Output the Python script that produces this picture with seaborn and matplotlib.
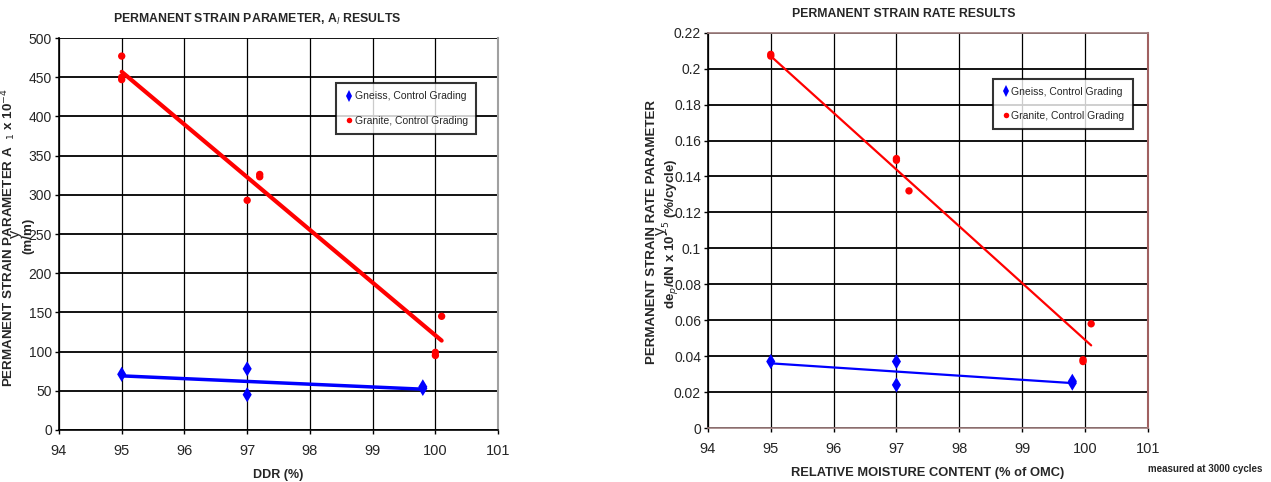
import matplotlib
matplotlib.use("Agg")
import matplotlib.pyplot as plt
import pandas as pd
import seaborn as sns

# left chart: permanent strain parameter A1 vs DDR
a1_granite_x = [95.0, 95.0, 95.0, 97.0, 97.2, 97.2, 100.0, 100.0, 100.1]
a1_granite_y = [477, 450, 447, 293, 323, 326, 95, 99, 145]
a1_gneiss_x = [95.0, 97.0, 97.0, 99.8, 99.8]
a1_gneiss_y = [71, 78, 45, 53, 55]
a1_granite_trend_x = [95.0, 100.1]
a1_granite_trend_y = [457, 114]
a1_gneiss_trend_x = [95.0, 99.8]
a1_gneiss_trend_y = [69, 52]

# right chart: permanent strain rate vs relative moisture content
rate_granite_x = [95.0, 95.0, 97.0, 97.0, 97.2, 99.97, 99.97, 100.1]
rate_granite_y = [0.207, 0.208, 0.149, 0.150, 0.132, 0.037, 0.038, 0.058]
rate_gneiss_x = [95.0, 97.0, 97.0, 99.8, 99.8]
rate_gneiss_y = [0.037, 0.037, 0.024, 0.026, 0.025]
rate_granite_trend_x = [95.0, 100.1]
rate_granite_trend_y = [0.207, 0.046]
rate_gneiss_trend_x = [95.0, 99.8]
rate_gneiss_trend_y = [0.036, 0.025]

series_names = ["Gneiss, Control Grading", "Granite, Control Grading"]
x_ticks = [94, 95, 96, 97, 98, 99, 100, 101]

sns.set_theme(style="white")
plt.rcParams["font.family"] = ["Liberation Sans", "DejaVu Sans"]

fig = plt.figure(figsize=(12.71, 4.82), dpi=100)
ax1 = fig.add_axes([0.0464, 0.108, 0.3455, 0.813])
ax2 = fig.add_axes([0.557, 0.112, 0.346, 0.820])


def points_frame(gx, gy, rx, ry):
    return pd.concat([
        pd.DataFrame({"x": gx, "y": gy, "series": series_names[0]}),
        pd.DataFrame({"x": rx, "y": ry, "series": series_names[1]}),
    ])


def draw_panel(ax, df, trends, line_widths, yticks, ylim, yfmt, legend_anchor):
    for (tx, ty, color), lw in zip(trends, line_widths):
        sns.lineplot(x=tx, y=ty, ax=ax, color=color, linewidth=lw, legend=False,
                     estimator=None, sort=False)
    sns.scatterplot(data=df, x="x", y="y", hue="series", style="series",
                    size="series",
                    sizes={series_names[0]: 60, series_names[1]: 28},
                    markers={series_names[0]: "d", series_names[1]: "o"},
                    palette={series_names[0]: "#0000FF", series_names[1]: "#FF0000"},
                    linewidth=0, ax=ax, zorder=5)
    ax.set_xlim(94, 101)
    ax.set_ylim(*ylim)
    ax.set_xticks(x_ticks)
    ax.set_xticklabels([str(t) for t in x_ticks], fontsize=10.5)
    ax.set_yticks(yticks)
    ax.set_yticklabels([yfmt(v) for v in yticks], fontsize=10)
    ax.grid(True, axis="y", color="black", linewidth=1.3)
    ax.grid(True, axis="x", color="black", linewidth=0.9)
    ax.set_axisbelow(True)
    ax.tick_params(axis="both", direction="out", length=3, width=1, color="black",
                   bottom=True, left=True, pad=2)
    ax.tick_params(axis="x", pad=7)
    for side in ["left", "bottom"]:
        ax.spines[side].set_color("black")
        ax.spines[side].set_linewidth(1.2)
    leg = ax.legend(loc="upper right", bbox_to_anchor=legend_anchor, frameon=True,
                    fancybox=False, edgecolor="black", handletextpad=0.0,
                    fontsize=7.5, handlelength=1.0, markerscale=0.75,
                    labelspacing=1.35, borderpad=0.8, borderaxespad=0)
    leg.get_frame().set_linewidth(1.5)
    leg.set_zorder(10)


label_kw = dict(rotation=90, rotation_mode="anchor", ha="center", va="baseline",
                fontsize=9.6, fontweight="bold")

df1 = points_frame(a1_gneiss_x, a1_gneiss_y, a1_granite_x, a1_granite_y)
draw_panel(ax1, df1,
           [(a1_gneiss_trend_x, a1_gneiss_trend_y, "#0000FF"),
            (a1_granite_trend_x, a1_granite_trend_y, "#FF0000")],
           [2.5, 3.0], list(range(0, 501, 50)), (0, 500), lambda v: f"{v:d}",
           (0.950, 0.885))
ax1.spines["top"].set_visible(False)
ax1.spines["right"].set_color("#A0A0A0")
ax1.spines["right"].set_linewidth(1.5)
ax1.set_xlabel("DDR (%)", fontsize=9, fontweight="bold", labelpad=8)
fig.text(13 / 1271, 0.508, "PERMANENT STRAIN PARAMETER A  $_1$ x 10$^{-4}$", **label_kw)
fig.text(31 / 1271, 0.51, "(m/m)", **label_kw)
ax1.set_title("PERMANENT STRAIN PARAMETER, A$_l$ RESULTS", fontsize=8.8,
              fontweight="bold", pad=11, x=0.452)

df2 = points_frame(rate_gneiss_x, rate_gneiss_y, rate_granite_x, rate_granite_y)
rate_ticks = [0, 0.02, 0.04, 0.06, 0.08, 0.1, 0.12, 0.14, 0.16, 0.18, 0.2, 0.22]
draw_panel(ax2, df2,
           [(rate_gneiss_trend_x, rate_gneiss_trend_y, "#0000FF"),
            (rate_granite_trend_x, rate_granite_trend_y, "#FF0000")],
           [1.6, 1.6], rate_ticks, (0, 0.22), lambda v: f"{v:g}",
           (0.966, 0.884))
ax2.spines["top"].set_color("#A08080")
ax2.spines["right"].set_color("#A06060")
ax2.spines["right"].set_linewidth(1.5)
ax2.spines["bottom"].set_color("#A08080")
ax2.set_xlabel("RELATIVE MOISTURE CONTENT (% of OMC)", fontsize=9.3,
               fontweight="bold", labelpad=8)
fig.text(655 / 1271, 0.519, "PERMANENT STRAIN RATE PARAMETER", **label_kw)
fig.text(675 / 1271, 0.516, "de$_p$/dN x 10$^{-5}$ (%/cycle)", **label_kw)
ax2.set_title("PERMANENT STRAIN RATE RESULTS", fontsize=8.8, fontweight="bold",
              pad=11, x=0.445)
fig.text(0.948, 0.016, "measured at 3000 cycles", fontsize=7, fontweight="bold",
         ha="center", va="bottom")

fig.savefig("out.png", dpi=100)
